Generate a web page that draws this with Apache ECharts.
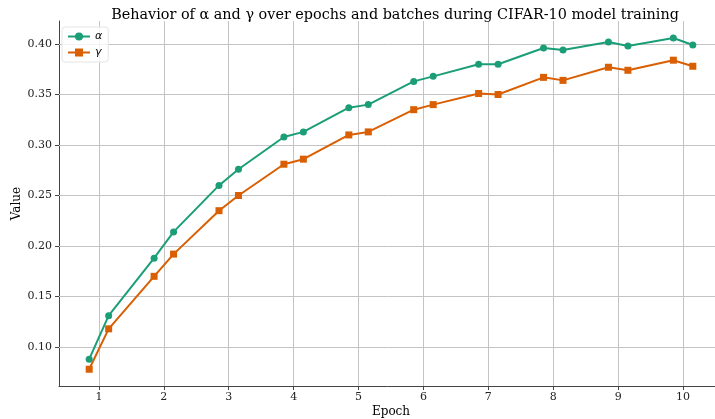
<!DOCTYPE html>
<html>
<head>
<meta charset="utf-8">
<script src="https://cdn.jsdelivr.net/npm/echarts@6/dist/echarts.min.js"></script>
<style>html,body{margin:0;padding:0;background:#fff}#c{width:715px;height:419px}</style>
</head>
<body>
<div id="c"></div>
<script>
const epochX = [0.85,1.15,1.85,2.15,2.85,3.15,3.85,4.15,4.85,5.15,5.85,6.15,6.85,7.15,7.85,8.15,8.85,9.15,9.85,10.15];
const alphaVals = [0.088,0.131,0.188,0.214,0.260,0.276,0.308,0.313,0.337,0.340,0.363,0.368,0.380,0.380,0.396,0.394,0.402,0.398,0.406,0.399];
const gammaVals = [0.078,0.118,0.170,0.192,0.235,0.250,0.281,0.286,0.310,0.313,0.335,0.340,0.351,0.350,0.367,0.364,0.377,0.374,0.384,0.378];
const xTicks = [1,2,3,4,5,6,7,8,9,10];
const yTicks = [0.10,0.15,0.20,0.25,0.30,0.35,0.40];

const serif = "'DejaVu Serif', serif";
const chart = echarts.init(document.getElementById('c'), null, {renderer:'canvas'});
const pairs = (xs, ys) => xs.map((x,i)=>[x, ys[i]]);
const gridColor = '#c4c4c4';
const xMin = 0.385, xMax = 10.615, yMin = 0.0614, yMax = 0.4228;
chart.setOption({
  animation:false,
  title:{text:'Behavior of α and γ over epochs and batches during CIFAR-10 model training',
    left:390, top:3, textAlign:'center',
    textStyle:{fontFamily:serif,fontSize:14.4,fontWeight:'normal',color:'#000'}},
  legend:{left:62, top:27, orient:'vertical', itemWidth:22, itemHeight:10, itemGap:5,
    padding:[4,6,4,5], borderColor:'#e4e4e4', borderWidth:1, borderRadius:3, backgroundColor:'rgba(255,255,255,0.8)',
    textStyle:{fontFamily:"'DejaVu Sans', sans-serif",fontStyle:'italic',fontSize:11,color:'#000'}},
  grid:{left:59, top:21, width:664, height:365, containLabel:false, outerBoundsMode:'none'},
  xAxis:{type:'value', min:xMin, max:xMax,
    name:'Epoch', nameLocation:'middle', nameGap:20, nameMoveOverlap:false,
    nameTextStyle:{fontFamily:serif,fontSize:12,color:'#000'},
    axisLine:{show:true,onZero:false,lineStyle:{color:'#444',width:1}},
    axisTick:{show:true,length:4,customValues:xTicks,lineStyle:{color:'#444'}},
    axisLabel:{customValues:xTicks,fontFamily:serif,fontSize:11,color:'#222',margin:6},
    splitLine:{show:false}},
  yAxis:{type:'value', min:yMin, max:yMax,
    name:'Value', nameLocation:'middle', nameGap:36, nameMoveOverlap:false,
    nameTextStyle:{fontFamily:serif,fontSize:12,color:'#000'},
    axisLine:{show:true,onZero:false,lineStyle:{color:'#444',width:1}},
    axisTick:{show:true,length:4,customValues:yTicks,lineStyle:{color:'#444'}},
    axisLabel:{customValues:yTicks,fontFamily:serif,fontSize:11,color:'#222',margin:7,
      formatter:v=>v.toFixed(2)},
    splitLine:{show:false}},
  series:[
    {name:'α', type:'line', data:pairs(epochX, alphaVals), symbol:'circle', symbolSize:7,
      lineStyle:{width:2,color:'#1b9e77'}, itemStyle:{color:'#1b9e77'}, z:3,
      markLine:{silent:true, symbol:'none', label:{show:false}, animation:false,
        lineStyle:{color:gridColor,width:1,type:'solid'},
        data: xTicks.map(v=>({xAxis:v})).concat(yTicks.map(v=>({yAxis:v}))), z:1}},
    {name:'γ', type:'line', data:pairs(epochX, gammaVals), symbol:'rect', symbolSize:7,
      lineStyle:{width:2,color:'#d95f02'}, itemStyle:{color:'#d95f02'}, z:3}
  ]
});
</script>
</body>
</html>
